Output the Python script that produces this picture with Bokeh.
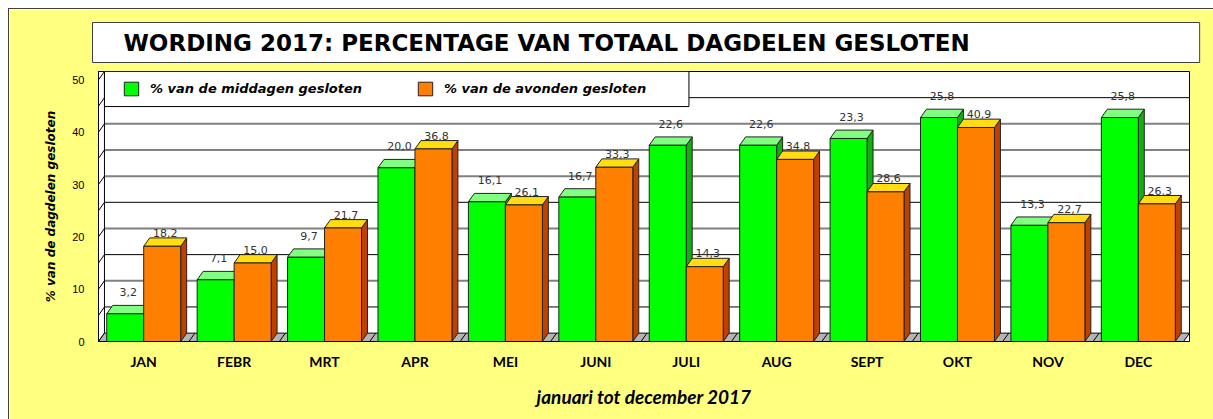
from bokeh.plotting import figure
from bokeh.models import Range1d, FixedTicker, Legend, LegendItem, BoxAnnotation, Title
from bokeh.core.properties import value
from bokeh.embed import file_html
from bokeh.resources import INLINE

# ---------------- data ----------------
months = ["JAN", "FEBR", "MRT", "APR", "MEI", "JUNI", "JULI", "AUG", "SEPT", "OKT", "NOV", "DEC"]
# green bars: heights as drawn in the picture, and their printed labels
middag_hoogte = [5.3, 11.8, 16.1, 33.2, 26.7, 27.6, 37.5, 37.5, 38.8, 42.8, 22.2, 42.8]
middag_labels = ["3,2", "7,1", "9,7", "20,0", "16,1", "16,7", "22,6", "22,6", "23,3", "25,8", "13,3", "25,8"]
# orange bars
avond = [18.2, 15.0, 21.7, 36.8, 26.1, 33.3, 14.3, 34.8, 28.6, 40.9, 22.7, 26.3]
avond_labels = ["18,2", "15,0", "21,7", "36,8", "26,1", "33,3", "14,3", "34,8", "28,6", "40,9", "22,7", "26,3"]
y_ticks = [0, 10, 20, 30, 40, 50]
grid_vals = [5, 10, 15, 20, 25, 30, 35, 40, 45]
wall_ticks = [0, 5, 10, 15, 20, 25, 30, 35, 40, 45, 50]

# ---------------- style ----------------
W = 0.409      # bar width (category units)
DX = 0.066     # 3D depth, x
DY = 1.6       # 3D depth, y
YMAX = 50

xs = list(range(len(months)))
X0 = -0.5
X1 = len(months) - 0.5

p = figure(width=1205, height=411, output_backend="svg", toolbar_location=None,
           x_range=Range1d(X0, X1 + DX), y_range=Range1d(0, YMAX + DY),
           min_border_left=89, min_border_right=25, min_border_top=62, min_border_bottom=79)
p.margin = (8, 0, 0, 8)
p.styles = {"border-left": "1px solid #404040", "border-top": "1px solid #404040",
            "box-sizing": "border-box"}
p.border_fill_color = "#FFFF80"
p.background_fill_color = "white"
p.outline_line_color = "black"
p.outline_line_width = 1
p.xgrid.visible = False
p.ygrid.visible = False

# back-wall gridlines
gcol = ["#808080" if v % 10 == 0 else "black" for v in grid_vals]
gw = [2 if v % 10 == 0 else 1 for v in grid_vals]
p.segment(x0=[X0 + DX] * len(grid_vals), x1=[X1 + DX] * len(grid_vals),
          y0=[v + DY for v in grid_vals], y1=[v + DY for v in grid_vals],
          line_color=gcol, line_width=gw)
# left wall
p.segment(x0=[X0] * len(wall_ticks), x1=[X0 + DX] * len(wall_ticks),
          y0=wall_ticks, y1=[v + DY for v in wall_ticks], line_color="black", line_width=1)
p.segment(x0=[X0 + DX], x1=[X0 + DX], y0=[DY], y1=[YMAX + DY], line_color="black", line_width=1)

# floor
p.patch([X0, X1, X1 + DX, X0 + DX], [0, 0, DY, DY], fill_color="#B4B4B4",
        line_color="black", line_width=1)
bounds = [i + 0.5 for i in xs[:-1]]
p.segment(x0=bounds, x1=[b + DX for b in bounds], y0=[0] * len(bounds), y1=[DY] * len(bounds),
          line_color="black", line_width=1)


def bars(left, heights, front, top, side):
    right = [l + W for l in left]
    p.patches(xs=[[r, r + DX, r + DX, r] for r in right],
              ys=[[0, DY, h + DY, h] for h in heights],
              fill_color=side, line_color="#222222", line_width=1)
    p.patches(xs=[[l, l + W, l + W + DX, l + DX] for l in left],
              ys=[[h, h, h + DY, h + DY] for h in heights],
              fill_color=top, line_color="#222222", line_width=1)
    return p.quad(left=left, right=right, bottom=[0] * len(heights), top=heights,
                  fill_color=front, line_color="#222222", line_width=1)


g_front = bars([x - W for x in xs], middag_hoogte, "#00FF00", "#80FF80", "#10B010")
o_front = bars(xs, avond, "#FF8000", "#FFDD10", "#C04000")

# value labels
p.text(x=[x - W / 2 + DX / 2 for x in xs], y=[h + DY for h in middag_hoogte], text=middag_labels,
       y_offset=-13, text_align="center", text_baseline="alphabetic",
       text_font=value("DejaVu Sans"), text_font_size="11px", text_color="#333333")
p.text(x=[x + W / 2 + DX / 2 for x in xs], y=[h + DY for h in avond], text=avond_labels,
       y_offset=-5, text_align="center", text_baseline="alphabetic",
       text_font=value("DejaVu Sans"), text_font_size="11px", text_color="#333333")

# axes
p.xaxis.ticker = FixedTicker(ticks=xs)
p.xaxis.major_label_overrides = {i: m for i, m in enumerate(months)}
p.xaxis.major_label_text_font = "Lato"
p.xaxis.major_label_text_font_style = "bold"
p.xaxis.major_label_text_font_size = "14px"
p.xaxis.major_label_text_color = "black"
p.xaxis.major_label_standoff = 5
p.xaxis.axis_label = "januari tot december 2017"
p.xaxis.axis_label_text_font = "Lato"
p.xaxis.axis_label_text_font_style = "bold italic"
p.xaxis.axis_label_text_font_size = "19px"
p.xaxis.axis_label_text_color = "black"
p.xaxis.axis_label_standoff = 12

p.yaxis.ticker = FixedTicker(ticks=y_ticks)
p.yaxis.major_label_text_font = "Liberation Sans"
p.yaxis.major_label_text_font_size = "11px"
p.yaxis.major_label_text_color = "black"
p.yaxis.major_label_standoff = 8
p.yaxis.axis_label = "% van de dagdelen gesloten"
p.yaxis.axis_label_text_font = "DejaVu Sans"
p.yaxis.axis_label_text_font_style = "bold italic"
p.yaxis.axis_label_text_font_size = "12px"
p.yaxis.axis_label_text_color = "black"
p.yaxis.axis_label_standoff = 11

p.axis.axis_line_color = "black"
p.axis.major_tick_line_color = None
p.axis.minor_tick_line_color = None

# legend box + legend
p.add_layout(BoxAnnotation(left=X0 + DX, right=6.03, bottom=44.9, top=YMAX + DY,
                           fill_color="white", fill_alpha=1, line_color="black",
                           line_width=1, line_alpha=1))
legend = Legend(items=[LegendItem(label="% van de middagen gesloten", renderers=[g_front]),
                       LegendItem(label="% van de avonden gesloten", renderers=[o_front])],
                orientation="horizontal", location=(24, 244), padding=0, spacing=54,
                glyph_width=18, glyph_height=17, label_height=17, label_standoff=10,
                label_text_font="DejaVu Sans", label_text_font_style="bold italic",
                label_text_font_size="13px", label_text_color="black",
                border_line_color=None, background_fill_alpha=0)
p.add_layout(legend, "center")

# title box  (padding order: left, right, top, bottom)
p.title = Title(text="WORDING 2017: PERCENTAGE VAN TOTAAL DAGDELEN GESLOTEN",
                text_font="DejaVu Sans", text_font_style="bold", text_font_size="23px",
                text_color="black", align="left", offset=-6, standoff=18,
                background_fill_color="white", border_line_color="#404040",
                padding=(31, 230, 7, 7))

open("out.html", "w").write(file_html(p, INLINE))
